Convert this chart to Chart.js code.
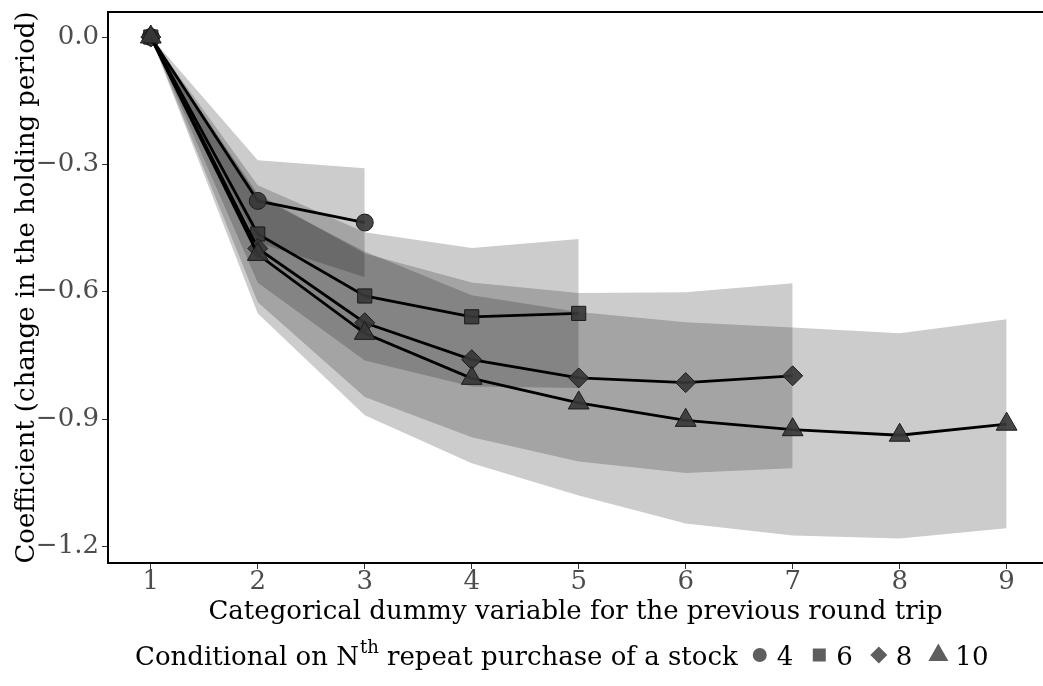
<!DOCTYPE html>
<html>
<head>
<meta charset="utf-8">
<script src="https://cdn.jsdelivr.net/npm/chart.js@4.4.1/dist/chart.umd.min.js"></script>
<style>
  body { margin: 0; background: #fff; }
  #wrap { width: 1043px; height: 686px; }
</style>
</head>
<body>
<div id="wrap"><canvas id="coefChart"></canvas></div>
<script>
// round trip dummy categories
const steps = [1, 2, 3, 4, 5, 6, 7, 8, 9];
const yTicks = [0, -0.3, -0.6, -0.9, -1.2];
const legendLabels = ["4", "6", "8", "10"];

// coefficients per Nth repeat purchase
const coef4 = [0, -0.386, -0.437];
const coef6 = [0, -0.464, -0.610, -0.659, -0.651];
const coef8 = [0, -0.498, -0.673, -0.760, -0.803, -0.814, -0.798];
const coef10 = [0, -0.512, -0.698, -0.804, -0.862, -0.903, -0.925, -0.938, -0.912];

// confidence bands
const up4 = [0, -0.290, -0.309];
const lo4 = [0, -0.484, -0.566];
const up6 = [0, -0.349, -0.460, -0.497, -0.476];
const lo6 = [0, -0.579, -0.762, -0.823, -0.827];
const up8 = [0, -0.370, -0.510, -0.578, -0.603, -0.601, -0.580];
const lo8 = [0, -0.625, -0.848, -0.943, -1.000, -1.027, -1.016];
const up10 = [0, -0.375, -0.505, -0.608, -0.648, -0.672, -0.684, -0.698, -0.665];
const lo10 = [0, -0.651, -0.891, -1.004, -1.080, -1.146, -1.174, -1.181, -1.157];

const FONT = "'DejaVu Serif', 'Liberation Serif', serif";

function pts(vals) {
  return vals.map((v, i) => ({ x: steps[i], y: v }));
}

const series = [
  { lab: legendLabels[0], vals: coef4, up: up4, lo: lo4, style: 'circle', r: 8.5 },
  { lab: legendLabels[1], vals: coef6, up: up6, lo: lo6, style: 'rect', r: 10 },
  { lab: legendLabels[2], vals: coef8, up: up8, lo: lo8, style: 'rectRot', r: 10 },
  { lab: legendLabels[3], vals: coef10, up: up10, lo: lo10, style: 'triangle', r: 12 }
];

let datasets = [];
// lines first (indexes 0..3)
series.forEach((s, i) => {
  datasets.push({
    label: s.lab,
    data: pts(s.vals),
    borderColor: '#000',
    borderWidth: 2.8,
    pointStyle: s.style,
    pointRadius: s.r,
    pointBackgroundColor: 'rgba(55,55,55,0.92)',
    pointBorderColor: '#1a1a1a',
    pointBorderWidth: 1,
    fill: false,
    order: 3 - i
  });
});
// ribbons: upper fills to its lower
series.forEach((s, i) => {
  const upIdx = datasets.length;
  datasets.push({
    label: 'upper ' + s.lab,
    data: pts(s.up),
    borderWidth: 0,
    pointRadius: 0,
    backgroundColor: 'rgba(0,0,0,0.2)',
    fill: upIdx + 1,
    order: 10 + i
  });
  datasets.push({
    label: 'lower ' + s.lab,
    data: pts(s.lo),
    borderWidth: 0,
    pointRadius: 0,
    fill: false,
    order: 10 + i
  });
});

function drawMark(ctx, style, x, y, r) {
  ctx.beginPath();
  if (style === 'circle') {
    ctx.arc(x, y, r, 0, Math.PI * 2);
  } else if (style === 'rect') {
    ctx.rect(x - r, y - r, 2 * r, 2 * r);
  } else if (style === 'rectRot') {
    ctx.moveTo(x, y - r); ctx.lineTo(x + r, y); ctx.lineTo(x, y + r); ctx.lineTo(x - r, y);
    ctx.closePath();
  } else {
    ctx.moveTo(x, y - r * 1.15); ctx.lineTo(x + r, y + r * 0.6); ctx.lineTo(x - r, y + r * 0.6);
    ctx.closePath();
  }
  ctx.fill();
}

const framePlugin = {
  id: 'frame',
  afterDraw(chart) {
    const ctx = chart.ctx;
    const a = chart.chartArea;
    ctx.save();
    // top and bottom border of the panel, run to the canvas edge
    ctx.fillStyle = '#000';
    ctx.fillRect(a.left - 1, a.top - 1, chart.width - a.left + 1, 2);
    ctx.fillRect(a.left - 1, a.bottom - 1, chart.width - a.left + 1, 2);

    // bottom legend
    const y = 658;
    let x = 135;
    ctx.fillStyle = '#000';
    ctx.textBaseline = 'middle';
    ctx.font = '26px ' + FONT;
    let t = 'Conditional on N';
    ctx.fillText(t, x, y);
    x += ctx.measureText(t).width;
    ctx.font = '18px ' + FONT;
    ctx.fillText('th', x + 1, y - 10);
    x += ctx.measureText('th').width + 1;
    ctx.font = '26px ' + FONT;
    t = ' repeat purchase of a stock';
    ctx.fillText(t, x, y);
    x += ctx.measureText(t).width + 22;
    const styles = ['circle', 'rect', 'rectRot', 'triangle'];
    const sizes = [7, 6.5, 8.5, 10];
    styles.forEach((st, i) => {
      ctx.fillStyle = '#5e5e5e';
      drawMark(ctx, st, x, y - 3, sizes[i]);
      x += 17;
      ctx.fillStyle = '#000';
      ctx.fillText(legendLabels[i], x, y);
      x += ctx.measureText(legendLabels[i]).width + 26;
    });
    ctx.restore();
  }
};

new Chart(document.getElementById('coefChart'), {
  type: 'line',
  data: { datasets: datasets },
  plugins: [framePlugin],
  options: {
    responsive: true,
    maintainAspectRatio: false,
    animation: false,
    layout: { autoPadding: false, padding: { top: 12, right: 0, bottom: 61, left: 0 } },
    plugins: {
      legend: { display: false },
      tooltip: { enabled: false },
      filler: { propagate: false }
    },
    elements: { line: { tension: 0 } },
    scales: {
      x: {
        type: 'linear',
        min: 0.6,
        max: 9.34,
        afterBuildTicks: (scale) => { scale.ticks = steps.map(v => ({ value: v })); },
        afterFit: (scale) => { scale.paddingLeft = 0; scale.paddingRight = 0; },
        ticks: {
          color: '#4d4d4d',
          font: { family: FONT, size: 26, lineHeight: 1.0 },
          padding: 0,
          callback: (v) => String(v)
        },
        grid: { drawOnChartArea: false, drawTicks: true, tickLength: 6, tickColor: '#333', tickWidth: 1 },
        border: { display: true, color: '#000', width: 2 },
        title: {
          display: true,
          text: 'Categorical dummy variable for the previous round trip',
          color: '#000',
          font: { family: FONT, size: 26, lineHeight: 1.0 },
          padding: { top: 4, bottom: 0 }
        }
      },
      y: {
        type: 'linear',
        min: -1.239,
        max: 0.059,
        afterBuildTicks: (scale) => { scale.ticks = yTicks.map(v => ({ value: v })); },
        afterFit: (scale) => { scale.width = 108; scale.paddingTop = 0; scale.paddingBottom = 0; },
        ticks: {
          color: '#4d4d4d',
          font: { family: FONT, size: 26 },
          padding: 3,
          callback: (v) => (v < 0 ? '\u2212' : '') + Math.abs(v).toFixed(1)
        },
        grid: { drawOnChartArea: false, drawTicks: true, tickLength: 6, tickColor: '#333', tickWidth: 1 },
        border: { display: true, color: '#000', width: 2 },
        title: {
          display: true,
          text: 'Coefficient (change in the holding period)',
          color: '#000',
          font: { family: FONT, size: 26 },
          padding: 12
        }
      }
    }
  }
});
</script>
</body>
</html>
